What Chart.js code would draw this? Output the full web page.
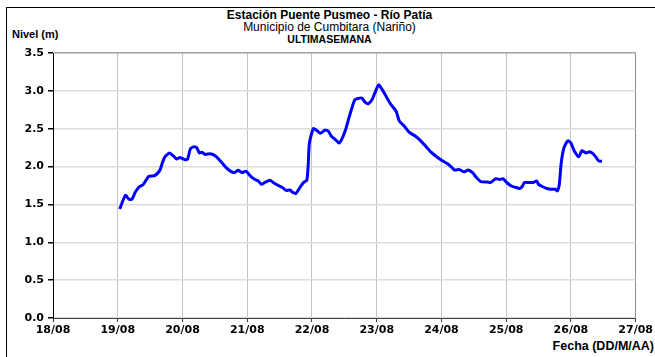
<!DOCTYPE html>
<html>
<head>
<meta charset="utf-8">
<script src="https://cdn.jsdelivr.net/npm/chart.js@4"></script>
<style>
  html, body { margin: 0; padding: 0; background: #fff; }
  #wrap { position: relative; width: 655px; height: 357px; overflow: hidden; font-family: "Liberation Sans", Arial, sans-serif; }
  #frame { position: absolute; left: 6px; top: 7px; width: 700px; height: 400px; border-left: 1px solid #000; border-top: 1px solid #000; }
  .txt { position: absolute; white-space: nowrap; font-size: 11px; color: #000; line-height: 13px; }
  .b { font-weight: bold; }
  .c { left: 0; width: 655px; text-align: center; }
  canvas { position: absolute; left: 0; top: 0; }
</style>
</head>
<body>
<div id="wrap">
  <div id="frame"></div>
  <div class="txt b c" style="top:9px; left:2px; font-size:12px;">Estación Puente Pusmeo - Río Patía</div>
  <div class="txt c" style="top:21px; left:2px; font-size:12px;">Municipio de Cumbitara (Nariño)</div>
  <div class="txt b c" style="top:33px; left:2px; font-size:10.5px;">ULTIMASEMANA</div>
  <div class="txt b" style="top:28px; left:12px;">Nivel (m)</div>
  <div class="txt b" style="top:340px; right:1px; font-size:12.5px;">Fecha (DD/M/AA)</div>
  <canvas id="chart-nivel" width="655" height="357"></canvas>
</div>
<script>
// horas expresadas como día del mes con fracción
const dias = [
  19.03, 19.12, 19.17, 19.22, 19.27, 19.33, 19.39, 19.43, 19.48, 19.57,
  19.65, 19.69, 19.73, 19.80, 19.86, 19.91, 19.96, 20.04, 20.08, 20.12,
  20.17, 20.22, 20.26, 20.30, 20.35, 20.43, 20.51, 20.59, 20.67, 20.74,
  20.80, 20.86, 20.92, 20.98, 21.05, 21.12, 21.17, 21.22, 21.27, 21.35,
  21.40, 21.48, 21.55, 21.60, 21.66, 21.70, 21.75, 21.81, 21.87, 21.92,
  21.94, 21.96, 22.02, 22.07, 22.13, 22.20, 22.25, 22.30, 22.37, 22.42,
  22.47, 22.52, 22.58, 22.66, 22.71, 22.77, 22.82, 22.87, 22.93, 22.97,
  23.03, 23.09, 23.15, 23.22, 23.30, 23.35, 23.43, 23.50, 23.60, 23.68,
  23.76, 23.84, 23.91, 23.99, 24.09, 24.16, 24.20, 24.28, 24.35, 24.41,
  24.48, 24.54, 24.61, 24.71, 24.76, 24.84, 24.90, 24.95, 25.02, 25.09,
  25.17, 25.21, 25.25, 25.28, 25.35, 25.42, 25.47, 25.50, 25.55, 25.63,
  25.70, 25.76, 25.79, 25.82, 25.85, 25.89, 25.94, 25.96, 26.00, 26.05,
  26.12, 26.17, 26.23, 26.29, 26.34, 26.39, 26.43, 26.48
];
const niveles = [
  1.44, 1.62, 1.57, 1.57, 1.66, 1.73, 1.76, 1.81, 1.87, 1.88,
  1.95, 2.05, 2.13, 2.18, 2.14, 2.10, 2.12, 2.09, 2.10, 2.23,
  2.26, 2.25, 2.18, 2.19, 2.16, 2.17, 2.14, 2.07, 1.99, 1.94,
  1.92, 1.95, 1.92, 1.94, 1.875, 1.83, 1.81, 1.765, 1.79, 1.82,
  1.79, 1.75, 1.72, 1.685, 1.69, 1.66, 1.645, 1.72, 1.79, 1.82,
  1.99, 2.31, 2.50, 2.48, 2.44, 2.48, 2.47, 2.40, 2.35, 2.31,
  2.38, 2.49, 2.67, 2.88, 2.90, 2.905, 2.85, 2.83, 2.885, 2.97,
  3.08, 3.01, 2.92, 2.82, 2.73, 2.60, 2.53, 2.455, 2.40, 2.34,
  2.265, 2.19, 2.14, 2.09, 2.04, 1.99, 1.955, 1.96, 1.93, 1.955,
  1.92, 1.855, 1.80, 1.795, 1.79, 1.84, 1.83, 1.84, 1.78, 1.74,
  1.72, 1.71, 1.74, 1.79, 1.79, 1.79, 1.81, 1.765, 1.74, 1.71,
  1.70, 1.70, 1.68, 1.76, 2.05, 2.24, 2.33, 2.34, 2.31, 2.21,
  2.13, 2.21, 2.18, 2.195, 2.17, 2.12, 2.075, 2.07
];
const mes = "08";
const diaInicio = 18;
const diaFin = 27;
const nivelMax = 3.5;

const puntos = dias.map((d, i) => ({ x: d, y: niveles[i] }));
const fuenteEje = { family: "'DejaVu Sans', sans-serif", size: 11, weight: "bold" };

new Chart(document.getElementById("chart-nivel"), {
  type: "line",
  data: {
    datasets: [
      {
        data: puntos,
        borderColor: "#0000ff",
        borderWidth: 3,
        pointRadius: 0,
        tension: 0.2,
        fill: false,
      },
    ],
  },
  options: {
    responsive: false,
    animation: false,
    layout: { padding: { left: 0, top: 53, right: 18, bottom: 0 } },
    plugins: {
      legend: { display: false },
      tooltip: { enabled: false },
    },
    scales: {
      x: {
        type: "linear",
        min: diaInicio,
        max: diaFin,
        afterFit: (scale) => { scale.height = 39; },
        ticks: {
          stepSize: 1,
          color: "#000",
          font: fuenteEje,
          padding: 2,
          maxRotation: 0,
          callback: (v) => v + "/" + mes,
        },
        grid: {
          color: (c) => (c.tick && c.tick.value === diaFin ? "#8c8c8c" : "#c4c4c4"),
          lineWidth: 1,
          tickLength: 4,
          tickColor: "#404040",
        },
        border: { color: "#404040", width: 1 },
      },
      y: {
        min: 0,
        max: nivelMax,
        afterFit: (scale) => { scale.width = 53; },
        ticks: {
          stepSize: 0.5,
          color: "#000",
          font: fuenteEje,
          padding: 4,
          callback: (v) => v.toFixed(1),
        },
        grid: {
          color: (c) => (c.tick && c.tick.value === nivelMax ? "#a0a0a0" : "#dcdcdc"),
          lineWidth: 1.5,
          tickLength: 5,
          tickColor: "#000",
        },
        border: { color: "#000", width: 1 },
      },
    },
  },
});
</script>
</body>
</html>
